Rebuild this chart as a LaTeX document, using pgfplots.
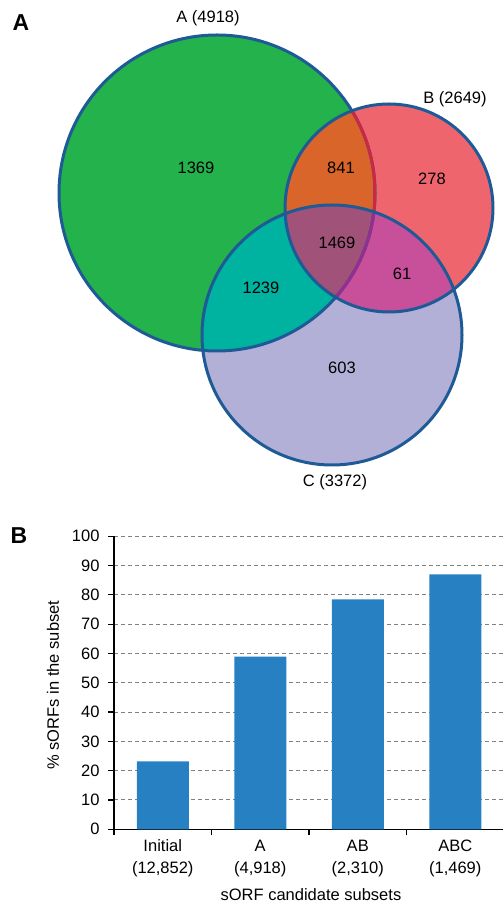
\documentclass[border=0pt]{standalone}
\usepackage{fontspec}
\setmainfont{Liberation Sans}
\usepackage{pgfplots}
\pgfplotsset{compat=1.18}
\definecolor{cA}{RGB}{35,178,75}
\definecolor{cB}{RGB}{239,101,110}
\definecolor{cC}{RGB}{179,176,216}
\definecolor{cAB}{RGB}{218,101,42}
\definecolor{cAC}{RGB}{0,178,160}
\definecolor{cBC}{RGB}{200,80,155}
\definecolor{cABC}{RGB}{160,82,120}
\definecolor{edge}{RGB}{30,90,150}
\definecolor{edgeB}{RGB}{205,40,65}
\definecolor{edgeBC}{RGB}{140,50,150}
\definecolor{barc}{RGB}{38,128,194}
\newcommand{\fs}{\fontsize{16.5}{22}\selectfont}
\begin{document}
\begin{tikzpicture}
\useasboundingbox (0,0) rectangle (503pt,903pt);
% ---------------- Panel A: Venn diagram ----------------
\begin{axis}[x=1pt, y=1pt, at={(0pt,400pt)}, anchor=south west,
  xmin=0, xmax=503, ymin=400, ymax=903, hide axis, clip=false]
  \fill[cA] (axis cs:217,710) circle[radius=158];
  \fill[cB] (axis cs:389,695) circle[radius=104];
  \fill[cC] (axis cs:332,568) circle[radius=130];
  \begin{scope}
    \clip (axis cs:217,710) circle[radius=158];
    \fill[cAB] (axis cs:389,695) circle[radius=104];
    \fill[cAC] (axis cs:332,568) circle[radius=130];
  \end{scope}
  \begin{scope}
    \clip (axis cs:389,695) circle[radius=104];
    \fill[cBC] (axis cs:332,568) circle[radius=130];
  \end{scope}
  \begin{scope}
    \clip (axis cs:217,710) circle[radius=158];
    \clip (axis cs:389,695) circle[radius=104];
    \fill[cABC] (axis cs:332,568) circle[radius=130];
  \end{scope}
  \draw[edge, line width=3pt] (axis cs:217,710) circle[radius=158];
  \begin{scope}
    \clip (axis cs:389,695) circle[radius=104];
    \draw[edgeB, line width=3pt] (axis cs:217,710) circle[radius=158];
    \clip (axis cs:332,568) circle[radius=130];
    \draw[edgeBC, line width=3pt] (axis cs:217,710) circle[radius=158];
  \end{scope}
  \draw[edge, line width=3pt] (axis cs:389,695) circle[radius=104];
  \draw[edge, line width=3pt] (axis cs:332,568) circle[radius=130];
  \node[font=\fs] at (axis cs:208,885) {A (4918)};
  \node[font=\fs] at (axis cs:455,804) {B (2649)};
  \node[font=\fs] at (axis cs:335,421) {C (3372)};
  \node[font=\fs] at (axis cs:196,735) {1369};
  \node[font=\fs] at (axis cs:341,735) {841};
  \node[font=\fs] at (axis cs:432,724) {278};
  \node[font=\fs] at (axis cs:337,660) {1469};
  \node[font=\fs] at (axis cs:402,629) {61};
  \node[font=\fs] at (axis cs:261,615) {1239};
  \node[font=\fs] at (axis cs:342,535) {603};
  \node[font=\fontsize{23}{27}\selectfont\bfseries] at (axis cs:21,880) {A};
  \node[font=\fontsize{23}{27}\selectfont\bfseries] at (axis cs:19,367) {B};
\end{axis}
% ---------------- Panel B: bar chart ----------------
\begin{axis}[at={(114pt,73.7pt)}, anchor=south west,
  x=97.5pt, y=2.93pt, xmin=-0.5, xmax=3.5, ymin=0, ymax=100,
  axis x line*=bottom, axis y line*=left,
  axis line style={line width=1.2pt, black},
  ytick={0,10,...,100},
  xtick={-0.5,0.5,1.5,2.5},
  xticklabels={{Initial\\(12,852)},{A\\(4,918)},{AB\\(2,310)},{ABC\\(1,469)}},
  xticklabel style={xshift=48.75pt, align=center, font=\fs, yshift=-1pt},
  yticklabel style={font=\fs, xshift=-5pt},
  /pgf/number format/assume math mode=true,
  tick align=outside, major tick length=6pt,
  tick style={black, line width=1.2pt},
  ymajorgrids,
  grid style={gray, line width=1pt, dash pattern=on 4pt off 3pt},
  xlabel={sORF candidate subsets},
  ylabel={\% sORFs in the subset},
  xlabel style={font=\fs, at={(axis cs:1.52,0)}, anchor=center, yshift=-65.7pt},
  ylabel style={font=\fs, at={(axis cs:-0.5,49.2)}, anchor=center, yshift=61pt},
  clip=false]
  \addplot[ybar, bar width=52pt, fill=barc, draw=none]
    coordinates {(0,23.2) (1,58.9) (2,78.5) (3,87.0)};
\end{axis}
\end{tikzpicture}
\end{document}
